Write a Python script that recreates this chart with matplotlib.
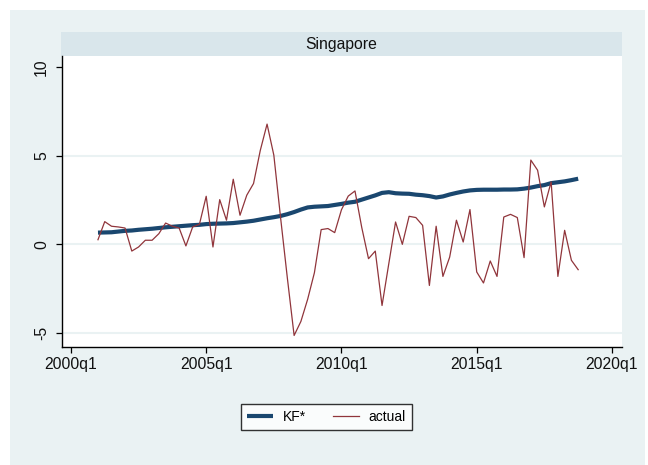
import matplotlib
matplotlib.use("Agg")
import matplotlib.pyplot as plt
from matplotlib.patches import Rectangle
import numpy as np

# Quarterly data, 2001q1 .. 2018q4
start_year = 2001
kf_star = [0.66, 0.67, 0.68, 0.72, 0.76, 0.78, 0.82, 0.85, 0.88, 0.92,
           0.96, 0.99, 1.02, 1.05, 1.08, 1.10, 1.14, 1.16, 1.17, 1.18,
           1.20, 1.24, 1.28, 1.33, 1.40, 1.47, 1.53, 1.60, 1.70, 1.82,
           1.96, 2.08, 2.12, 2.14, 2.16, 2.22, 2.28, 2.35, 2.40, 2.52,
           2.64, 2.76, 2.90, 2.94, 2.88, 2.86, 2.85, 2.80, 2.77, 2.72,
           2.64, 2.70, 2.81, 2.90, 2.98, 3.04, 3.07, 3.08, 3.08, 3.08,
           3.09, 3.09, 3.10, 3.14, 3.20, 3.28, 3.34, 3.45, 3.50, 3.55,
           3.62, 3.70]
actual = [0.26, 1.28, 1.02, 0.98, 0.92, -0.38, -0.15, 0.23, 0.23, 0.60,
          1.20, 1.02, 0.92, -0.09, 0.98, 1.13, 2.71, -0.15, 2.52, 1.36,
          3.67, 1.64, 2.77, 3.43, 5.30, 6.78, 5.03, 1.50, -1.90, -5.14,
          -4.35, -3.10, -1.60, 0.83, 0.89, 0.66, 1.95, 2.72, 3.01, 0.95,
          -0.81, -0.38, -3.45, -1.09, 1.26, 0.00, 1.58, 1.51, 1.07, -2.32,
          1.02, -1.81, -0.72, 1.36, 0.13, 1.96, -1.56, -2.18, -0.94, -1.81,
          1.54, 1.69, 1.51, -0.75, 4.75, 4.18, 2.11, 3.52, -1.81, 0.79,
          -0.90, -1.43]
xtick_years = [2000, 2005, 2010, 2015, 2020]
xtick_labels = ["2000q1", "2005q1", "2010q1", "2015q1", "2020q1"]
ytick_vals = [-5, 0, 5, 10]
ytick_labels = ["-5", "0", "5", "10"]
panel_title = "Singapore"
series_names = ["KF*", "actual"]

W, H = 648, 465
plt.rcParams['font.family'] = ['Liberation Sans', 'DejaVu Sans']
fig = plt.figure(figsize=(W / 100, H / 100), dpi=100)
fig.patch.set_facecolor("white")

def fx(px):
    return px / W

def fy(py):
    return 1 - py / H

# outer background
fig.patches.append(Rectangle((fx(10), 0), fx(645) - fx(10), fy(10), transform=fig.transFigure,
                             facecolor="#EAF2F3", edgecolor="none", zorder=-10))
# strip
fig.patches.append(Rectangle((fx(61), fy(56)), fx(622) - fx(61), fy(32) - fy(56), transform=fig.transFigure,
                             facecolor="#D9E6EB", edgecolor="none", zorder=-5))
fig.text(fx(341.5), fy(44), panel_title, ha="center", va="center", fontsize=11.3, color="#111111")

ax = fig.add_axes([fx(62), fy(347), fx(622) - fx(62), fy(56) - fy(347)])
ax.set_facecolor("white")

x = start_year + np.arange(len(actual)) / 4.0
ax.plot(x, kf_star, color="#1A476F", lw=3.0, solid_capstyle="butt", label=series_names[0], zorder=3)
ax.plot(x, actual, color="#90353B", lw=0.9, label=series_names[1], zorder=4)

ax.set_xlim(1999.67, 2020.37)
ax.set_ylim(-5.79, 10.62)
ax.set_xticks(xtick_years)
ax.set_xticklabels(xtick_labels)
ax.set_yticks(ytick_vals)
ax.set_yticklabels(ytick_labels, rotation=90, va="center")

for v in [-5, 0, 5]:
    ax.axhline(v, color="#EAF2F3", lw=1.5, zorder=1)

for s in ["top", "right"]:
    ax.spines[s].set_visible(False)
for s in ["left", "bottom"]:
    ax.spines[s].set_color("black")
    ax.spines[s].set_linewidth(1.0)
ax.tick_params(axis="both", direction="out", length=4.3, width=0.9, color="black",
               labelsize=11.3, labelcolor="#111111")
ax.tick_params(axis="x", pad=3)
ax.tick_params(axis="y", pad=5)

leg = fig.legend(loc="center", bbox_to_anchor=(fx(326.5), fy(417)), ncol=2, frameon=True,
                 fancybox=False, edgecolor="black", facecolor="white", fontsize=10,
                 handlelength=1.9, handletextpad=0.7, columnspacing=1.9,
                 borderpad=0.45)
leg.get_frame().set_linewidth(1.0)

fig.savefig("out.png", dpi=100, facecolor=fig.get_facecolor())
